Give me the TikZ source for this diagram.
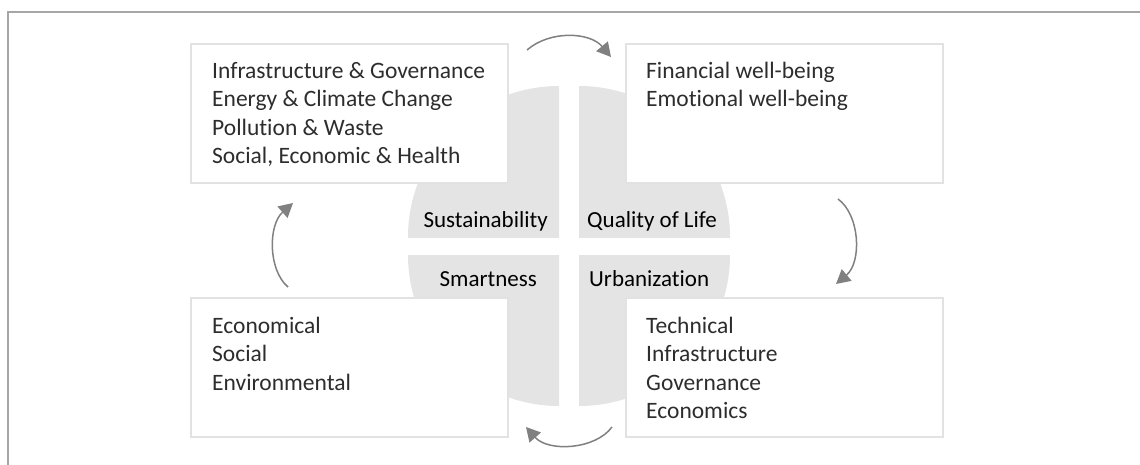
\documentclass[tikz,border=0pt]{standalone}
\usepackage{fontspec}
\setmainfont[Ligatures={NoCommon}]{Carlito}
\usetikzlibrary{arrows.meta}
\definecolor{piegray}{RGB}{228,228,228}
\definecolor{boxline}{RGB}{226,226,226}
\definecolor{arrowgray}{RGB}{128,128,128}
\definecolor{framegray}{RGB}{166,166,166}
\definecolor{boxtext}{RGB}{45,45,45}
\tikzset{
  boxnode/.style={draw=boxline, line width=2pt, fill=white, inner sep=0pt},
  boxtxt/.style={inner sep=0pt, align=left, text=boxtext, font=\fontsize{23.5}{28.5}\selectfont},
  lbl/.style={inner sep=0pt, font=\fontsize{23}{27}\selectfont, text=black},
  cyc/.style={draw=arrowgray, line width=1.5pt, -{Triangle[length=14pt,width=15pt]}},
  pie/.style={fill=piegray}
}
\begin{document}
\begin{tikzpicture}[x=1pt,y=-1pt]
\useasboundingbox (0,0) rectangle (1140,464);
\clip (0,0) rectangle (1140,464);
% frame
\draw[framegray, line width=1.5pt] (8,12) rectangle (1200,520);
% quarter pies
\begin{scope}\clip (559,237) rectangle (380,60); \fill[pie] (559,237) circle (151); \end{scope}
\begin{scope}\clip (579,237) rectangle (760,60); \fill[pie] (579,237) circle (151); \end{scope}
\begin{scope}\clip (559,255) rectangle (380,430); \fill[pie] (559,255) circle (151); \end{scope}
\begin{scope}\clip (579,255) rectangle (760,430); \fill[pie] (579,255) circle (151); \end{scope}
% boxes
\path[boxnode] (191,44) rectangle (508,183) node[midway] (tl) {};
\path[boxnode] (626,44) rectangle (943,183) node[midway] (tr) {};
\path[boxnode] (191,298) rectangle (508,437) node[midway] (bl) {};
\path[boxnode] (626,298) rectangle (943,437) node[midway] (br) {};
% box texts (anchored at the baseline of the last line)
\node[boxtxt, anchor=base west] (tltext) at (212,163.5) {Infrastructure \& Governance\\Energy \& Climate Change\\Pollution \& Waste\\Social, Economic \& Health};
\node[boxtxt, anchor=base west] (trtext) at (646,106.5) {Financial well-being\\Emotional well-being};
\node[boxtxt, anchor=base west] (bltext) at (212,390) {Economical\\Social\\Environmental};
\node[boxtxt, anchor=base west] (brtext) at (646,418.5) {Technical\\Infrastructure\\Governance\\Economics};
% labels
\node[lbl, anchor=base east] (sus) at (548,227) {Sustainability};
\node[lbl, anchor=base west] (qol) at (587,227) {Quality of Life};
\node[lbl, anchor=base east] (sma) at (537,286) {Smartness};
\node[lbl, anchor=base west] (urb) at (589,286) {Urbanization};
% cycle arrows
\coordinate (a1s) at (527,50);  \coordinate (a1e) at (611,57);
\coordinate (a2s) at (838,199); \coordinate (a2e) at (836,284);
\coordinate (a3s) at (612,427); \coordinate (a3e) at (526,427);
\coordinate (a4s) at (288,287); \coordinate (a4e) at (293,203);
\draw[cyc] (a1s) .. controls (550,30) and (590,32) .. (a1e);
\draw[cyc] (a2s) .. controls (860,215) and (862,262) .. (a2e);
\draw[cyc] (a3s) .. controls (595,450) and (548,452) .. (a3e);
\draw[cyc] (a4s) .. controls (268,270) and (268,225) .. (a4e);
\end{tikzpicture}
\end{document}
